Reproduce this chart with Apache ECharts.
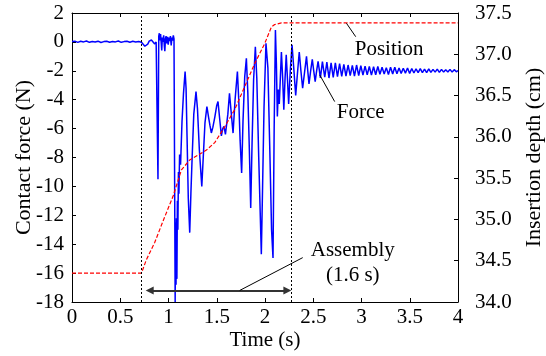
<!DOCTYPE html>
<html><head><meta charset="utf-8">
<script src="https://cdn.jsdelivr.net/npm/echarts@6/dist/echarts.min.js"></script>
<style>html,body{margin:0;padding:0;background:#fff}#c{width:546px;height:356px}</style>
</head><body><div id="c"></div>
<script>
// ---- data ----
const forceTime = [
  0, 0.03, 0.06, 0.09, 0.12, 0.15, 0.18, 0.21, 0.24, 0.27, 0.30, 0.33, 0.36, 0.39, 0.42, 0.45, 0.48, 0.51, 0.54, 0.57, 0.60, 0.63, 0.66, 0.69, 0.72,
  0.74, 0.755, 0.771, 0.785, 0.80, 0.812, 0.823, 0.84, 0.857, 0.872, 0.886, 0.891, 0.895, 0.899, 0.905, 0.912, 0.918, 0.925, 0.93, 0.936, 0.943, 0.95, 0.957, 0.962, 0.968, 0.975, 0.982, 0.99, 0.997, 1.005, 1.012, 1.02, 1.028, 1.035, 1.042, 1.05, 1.057, 1.064,
  1.069, 1.073, 1.078, 1.082, 1.087, 1.092, 1.097, 1.103, 1.108, 1.115, 1.125, 1.14, 1.155, 1.172, 1.182, 1.192, 1.205, 1.22, 1.232, 1.245, 1.262, 1.285, 1.30, 1.32, 1.345, 1.36, 1.378, 1.398, 1.415, 1.43, 1.444, 1.46, 1.48, 1.50, 1.513, 1.53, 1.548, 1.562, 1.575, 1.59, 1.60, 1.615, 1.632, 1.65, 1.669, 1.69, 1.714, 1.728, 1.742, 1.758, 1.772, 1.79, 1.807, 1.822, 1.838, 1.852, 1.866, 1.882, 1.90, 1.915, 1.935, 1.962, 1.975, 1.99, 2.01, 2.03, 2.05, 2.068, 2.083, 2.095, 2.108,
  2.118, 2.128, 2.138, 2.148, 2.17, 2.183, 2.195, 2.208, 2.22, 2.233, 2.245, 2.262, 2.28, 2.30, 2.318, 2.336, 2.355, 2.372, 2.39, 2.41, 2.43, 2.443, 2.456, 2.473, 2.49, 2.505, 2.52, 2.535, 2.55, 2.562, 2.574, 2.585, 2.595,
  2.619, 2.641, 2.663, 2.685, 2.707, 2.729, 2.751, 2.773, 2.795, 2.817, 2.839, 2.861, 2.883, 2.905, 2.927, 2.949, 2.971, 2.993, 3.015, 3.037, 3.059, 3.081, 3.103, 3.125, 3.147, 3.169, 3.191, 3.213, 3.235, 3.257, 3.279, 3.301, 3.323, 3.345, 3.367, 3.389, 3.411, 3.433, 3.455, 3.477, 3.499, 3.521, 3.543, 3.565, 3.587, 3.609, 3.631, 3.653, 3.675, 3.697, 3.719, 3.741, 3.763, 3.785, 3.807, 3.829, 3.851, 3.873, 3.895, 3.917, 3.939, 3.961, 3.983, 4.0
];
const forceValue = [
  0.02, 0.05, -0.03, 0.04, 0.0, 0.06, -0.03, 0.03, 0.0, 0.05, -0.04, 0.02, 0.05, -0.02, 0.03, 0.0, 0.06, -0.03, 0.02, 0.05, -0.02, 0.04, 0.0, 0.03, -0.03,
  -0.08, -0.3, -0.37, -0.15, 0.05, -0.05, 0.13, 0.0, -0.14, 0.0, 0.02, -9.5, -9.5, 0.4, 0.6, 0.1, 0.55, -0.1, -0.6, 0.3, 0.0, 0.45, -0.3, -0.65, 0.2, 0.4, -0.1, 0.35, -0.2, 0.3, 0.05, 0.4, -0.25, 0.3, 0.1, 0.45, 0.2, 0.3,
  -18.0, -12.5, -16.8, -12.2, -16.4, -11.0, -13.0, -9.0, -10.5, -7.8, -8.5, -5.5, -3.6, -2.05, -3.2, -6.5, -10.8, -13.2, -10.5, -8.0, -5.0, -3.44, -4.6, -7.5, -10.0, -8.0, -5.6, -4.47, -5.2, -5.8, -6.3, -5.9, -5.2, -4.4, -4.13, -5.3, -6.5, -6.0, -5.85, -6.4, -6.5, -5.0, -3.55, -4.9, -6.31, -4.0, -2.05, -4.0, -6.8, -9.07, -5.5, -2.4, -1.13, -3.5, -7.5, -11.5, -7.0, -2.6, -0.33, -2.5, -8.0, -14.7, -10.0, -4.5, -0.1, -1.8, -7.5, -13.0, -14.95, -6.0, 0.83,
  -1.5, -5.16, -3.3, -4.3, -0.7, -2.5, -4.7, -2.5, -0.9, -2.6, -4.3, -2.0, -0.2, -2.0, -3.7, -2.2, -0.7, -2.0, -3.2, -2.1, -1.0, -2.0, -2.9, -2.0, -1.2, -2.0, -2.75, -2.0, -1.35, -1.9, -2.5, -1.9, -1.36,
  -2.44, -1.40, -2.50, -1.45, -2.45, -1.45, -2.40, -1.50, -2.38, -1.55, -2.36, -1.60, -2.34, -1.62, -2.36, -1.60, -2.33, -1.65, -2.30, -1.68, -2.28, -1.70, -2.30, -1.72, -2.27, -1.70, -2.24, -1.75, -2.22, -1.78, -2.25, -1.76, -2.22, -1.75, -2.20, -1.80, -2.18, -1.82, -2.16, -1.80, -2.18, -1.84, -2.15, -1.86, -2.13, -1.85, -2.12, -1.88, -2.13, -1.86, -2.11, -1.90, -2.09, -1.88, -2.11, -1.90, -2.09, -1.92, -2.08, -1.90, -2.09, -1.92, -2.07, -1.98
];
const posTime  = [0, 0.72, 0.77, 0.857, 0.95, 1.047, 1.134, 1.22, 1.393, 1.479, 1.582, 1.686, 1.79, 1.894, 1.997, 2.066, 2.1, 2.17, 4.0];
const posDepth = [34.35, 34.35, 34.51, 34.72, 35.0, 35.28, 35.6, 35.72, 35.84, 35.93, 36.12, 36.33, 36.61, 36.89, 37.13, 37.33, 37.36, 37.38, 37.38];
const assemblyBounds = [0.72, 2.275];          // vertical dotted lines (s)
const assemblyArrow = [[0.805, -17.2], [2.232, -17.2]];
const leaderPosition = [[2.844, 1.29], [2.94, 0.36]];
const leaderForce = [[2.567, -2.28], [2.722, -4.13]];
const leaderAssembly = [[1.738, -17.2], [2.391, -14.93]];
const annotations = [
  [3.287, -0.52, 'Position'],
  [2.992, -4.91, 'Force'],
  [2.909, -15.31, 'Assembly\n(1.6 s)']
];

const FONT = 'Liberation Serif';
const txt = {fontFamily: FONT, fontSize: 21, color: '#000'};
const axisLine = {show: true, onZero: false, lineStyle: {color: '#000', width: 1}};
const tick = {show: true, inside: true, length: 4, lineStyle: {color: '#000'}};

const chart = echarts.init(document.getElementById('c'), null, {renderer: 'canvas'});
const line2 = (d) => ({type: 'line', data: d, symbol: 'none', lineStyle: {color: '#000', width: 1}, silent: true, z: 5});

chart.setOption({
  animation: false,
  backgroundColor: '#fff',
  grid: {left: 72, right: 88, top: 13, bottom: 54, outerBoundsMode: 'none', containLabel: false},
  xAxis: [
    {type: 'value', min: 0, max: 4, interval: 0.5, position: 'bottom',
     axisLine, axisTick: tick, splitLine: {show: false},
     axisLabel: Object.assign({margin: 5}, txt),
     name: 'Time (s)', nameLocation: 'middle', nameGap: 28, nameMoveOverlap: false, nameTextStyle: txt},
    {type: 'value', min: 0, max: 4, interval: 0.5, position: 'top',
     axisLine, axisTick: tick, splitLine: {show: false}, axisLabel: {show: false}}
  ],
  yAxis: [
    {type: 'value', min: -18, max: 2, interval: 2, position: 'left',
     axisLine, axisTick: tick, splitLine: {show: false},
     axisLabel: Object.assign({margin: 8}, txt),
     name: 'Contact force (N)', nameLocation: 'middle', nameRotate: 90, nameGap: 37, nameMoveOverlap: false,
     nameTextStyle: Object.assign({}, txt, {fontSize: 22})},
    {type: 'value', min: 34, max: 37.5, interval: 0.5, position: 'right',
     axisLine, axisTick: tick, splitLine: {show: false},
     axisLabel: Object.assign({margin: 17, formatter: v => v.toFixed(1)}, txt),
     name: 'Insertion depth (cm)', nameLocation: 'middle', nameRotate: 90, nameGap: 65, nameMoveOverlap: false,
     nameTextStyle: Object.assign({}, txt, {fontSize: 22})}
  ],
  series: [
    {type: 'line', name: 'Force', yAxisIndex: 0, symbol: 'none',
     data: forceTime.map((t, i) => [t, forceValue[i]]),
     lineStyle: {color: '#0000ff', width: 1.5}, z: 3,
     markLine: {silent: true, symbol: 'none', label: {show: false},
       lineStyle: {color: '#000', type: [2, 2], width: 1},
       data: assemblyBounds.map(x => ({xAxis: x}))}},
    {type: 'line', name: 'Position', yAxisIndex: 1, symbol: 'none',
     data: posTime.map((t, i) => [t, posDepth[i]]),
     lineStyle: {color: '#ff0000', width: 1.2, type: [4, 2]}, z: 4},
    line2(leaderPosition), line2(leaderForce), line2(leaderAssembly),
    {type: 'line', data: [], symbol: 'none', z: 5,
     markLine: {silent: true, symbol: ['triangle', 'triangle'], symbolSize: [8, 8], label: {show: false},
       lineStyle: {color: '#333', width: 2, type: 'solid'},
       data: [[{coord: assemblyArrow[0]}, {coord: assemblyArrow[1]}]]}},
    {type: 'scatter', data: annotations, symbolSize: 0, itemStyle: {color: '#000', opacity: 1}, silent: true, z: 6,
     label: Object.assign({show: true, position: 'inside', lineHeight: 25, opacity: 1, textBorderWidth: 0,
       formatter: p => p.data[2]}, txt)}
  ]
});
</script>
</body></html>
